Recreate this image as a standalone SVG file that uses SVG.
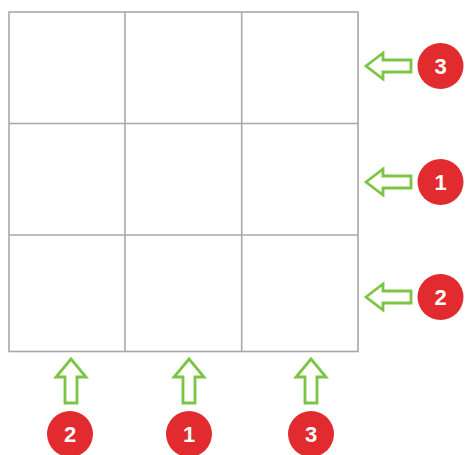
<svg xmlns="http://www.w3.org/2000/svg" width="466" height="455" viewBox="0 0 466 455">
<style>
.grid{fill:none;stroke:#a8a8a8;stroke-width:1.6}
.arr{fill:#fff;stroke:#7cc444;stroke-width:2.8;stroke-linejoin:miter}
.badge{fill:#e12b2e}
.num{fill:#fff;font-family:"Liberation Sans",Arial,sans-serif;font-weight:bold;font-size:22px;text-anchor:middle}
</style>
<defs>
<path id="arrL" d="M0,0 L17,-13 L17,-6 L45,-6 L45,6 L17,6 L17,13 Z"/>
<path id="arrU" d="M0,0 L15,18 L6,18 L6,44 L-6,44 L-6,18 L-15,18 Z"/>
</defs>
<g id="grid">
<rect class="grid" x="9" y="12" width="349" height="339.5"/>
<line class="grid" x1="125" y1="12" x2="125" y2="351.5"/>
<line class="grid" x1="241.7" y1="12" x2="241.7" y2="351.5"/>
<line class="grid" x1="9" y1="123.5" x2="358" y2="123.5"/>
<line class="grid" x1="9" y1="235" x2="358" y2="235"/>
</g>
<g id="connectors">
<use href="#arrL" class="arr" x="366" y="66"/>
<use href="#arrL" class="arr" x="366" y="182"/>
<use href="#arrL" class="arr" x="366" y="297"/>
<use href="#arrU" class="arr" x="71" y="359"/>
<use href="#arrU" class="arr" x="189" y="359"/>
<use href="#arrU" class="arr" x="311" y="359"/>
</g>
<g id="badge-r1"><circle class="badge" cx="440.5" cy="66" r="23"/><text class="num" x="440.5" y="74">3</text></g>
<g id="badge-r2"><circle class="badge" cx="440.5" cy="182" r="23"/><text class="num" x="440.5" y="190">1</text></g>
<g id="badge-r3"><circle class="badge" cx="440.5" cy="297" r="23"/><text class="num" x="440.5" y="305">2</text></g>
<g id="badge-c1"><circle class="badge" cx="70" cy="434" r="23"/><text class="num" x="70" y="442">2</text></g>
<g id="badge-c2"><circle class="badge" cx="189" cy="434" r="23"/><text class="num" x="189" y="442">1</text></g>
<g id="badge-c3"><circle class="badge" cx="311" cy="434" r="23"/><text class="num" x="311" y="442">3</text></g>
</svg>
